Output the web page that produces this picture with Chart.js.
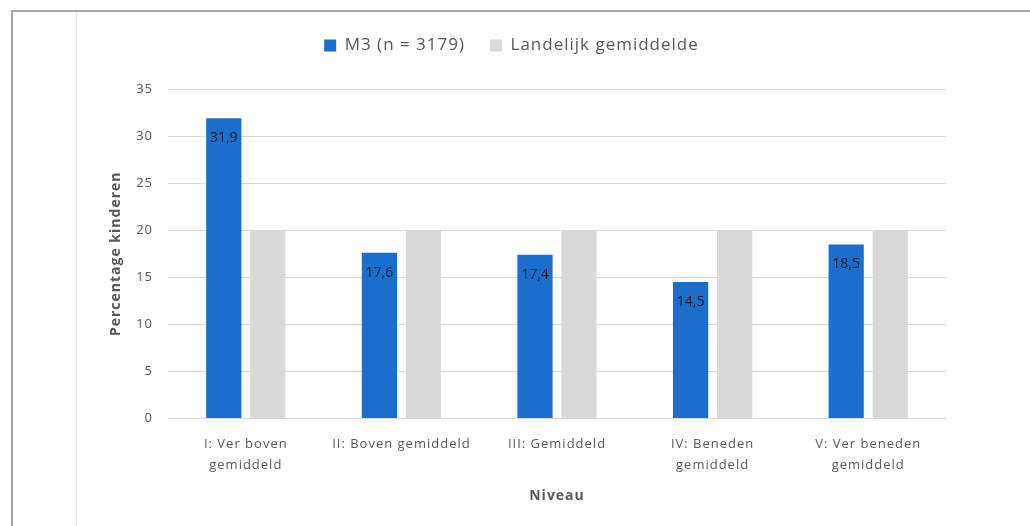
<!DOCTYPE html>
<html>
<head>
<meta charset="utf-8">
<script src="https://cdn.jsdelivr.net/npm/chart.js@4"></script>
<style>
  html, body { margin: 0; padding: 0; background: #fff; }
  body { width: 1030px; height: 526px; position: relative; overflow: hidden; }
  .outer { position: absolute; left: 11px; top: 10px; right: 0; bottom: 0;
           border-left: 2px solid #a6a6a6; border-top: 2px solid #a6a6a6; }
  .frame { position: absolute; left: 76px; top: 12px; width: 891px; height: 514px;
           border-left: 1px solid #e4e4e4; }
  canvas { position: absolute; left: 0; top: 0; }
</style>
</head>
<body>
<div class="outer"></div>
<div class="frame"><canvas id="niveauChart" width="891" height="514"></canvas></div>
<script>
  const categories = [
    ['I: Ver boven', 'gemiddeld'],
    'II: Boven gemiddeld',
    'III: Gemiddeld',
    ['IV: Beneden', 'gemiddeld'],
    ['V: Ver beneden', 'gemiddeld']
  ]
  const m3Values = [31.9, 17.6, 17.4, 14.5, 18.5]
  const landelijkValues = [20, 20, 20, 20, 20]
  const yTicks = [0, 5, 10, 15, 20, 25, 30, 35]

  const fontFamily = '"Open Sans", Lato, sans-serif'
  const textColor = '#595959'

  // the original text is set rather wide, so space the letters a bit
  const spacing = {
    id: 'spacing',
    beforeLayout (chart) { chart.ctx.letterSpacing = '1px' },
    beforeDraw (chart) { chart.ctx.letterSpacing = '1px' }
  }

  // more room between legend and plot
  const legendGap = {
    id: 'legendGap',
    beforeInit (chart) {
      const fit = chart.legend.fit
      chart.legend.fit = function () {
        fit.call(this)
        this.height += 25
      }
    }
  }

  // labels inside the top of the blue bars
  const barLabels = {
    id: 'barLabels',
    afterDatasetsDraw (chart) {
      const ctx = chart.ctx
      const meta = chart.getDatasetMeta(0)
      ctx.save()
      ctx.letterSpacing = '0px'
      ctx.font = '14px ' + fontFamily
      ctx.fillStyle = '#1c1c2c'
      ctx.textAlign = 'center'
      ctx.textBaseline = 'middle'
      meta.data.forEach((el, i) => {
        ctx.fillText(m3Values[i].toFixed(1).replace('.', ','), el.x, el.y + 20)
      })
      ctx.restore()
    }
  }

  new Chart(document.getElementById('niveauChart'), {
    type: 'bar',
    data: {
      labels: categories,
      datasets: [{
        label: 'M3 (n = 3179)',
        data: m3Values,
        backgroundColor: '#1b6fcc'
      }, {
        label: 'Landelijk gemiddelde',
        data: landelijkValues,
        backgroundColor: '#d9d9d9'
      }]
    },
    options: {
      responsive: false,
      animation: false,
      categoryPercentage: 0.566,
      barPercentage: 0.8,
      layout: { padding: { top: 0, right: 22, bottom: 18, left: 0 } },
      scales: {
        x: {
          grid: { display: false },
          border: { color: '#d9d9d9' },
          ticks: {
            color: textColor,
            font: { family: fontFamily, size: 13, lineHeight: 1.6 },
            padding: 7,
            maxRotation: 0
          },
          title: {
            display: true,
            text: 'Niveau',
            color: textColor,
            font: { family: fontFamily, size: 14, weight: 'bold' },
            padding: { top: 5 }
          }
        },
        y: {
          min: 0,
          max: 35,
          afterBuildTicks: (scale) => { scale.ticks = yTicks.map(v => ({ value: v })) },
          grid: { color: '#d9d9d9', drawTicks: false },
          border: { display: false },
          ticks: {
            color: textColor,
            font: { family: fontFamily, size: 13 },
            padding: 15
          },
          title: {
            display: true,
            text: 'Percentage kinderen',
            color: textColor,
            font: { family: fontFamily, size: 14, weight: 'bold' },
            padding: { top: 31, bottom: 2 }
          },
          afterFit: (scale) => { scale.width = 91 }
        }
      },
      plugins: {
        legend: {
          labels: {
            color: textColor,
            font: { family: fontFamily, size: 17 },
            boxWidth: 12,
            boxHeight: 12,
            padding: 25
          }
        },
        tooltip: { enabled: false }
      }
    },
    plugins: [spacing, legendGap, barLabels]
  })
</script>
</body>
</html>
